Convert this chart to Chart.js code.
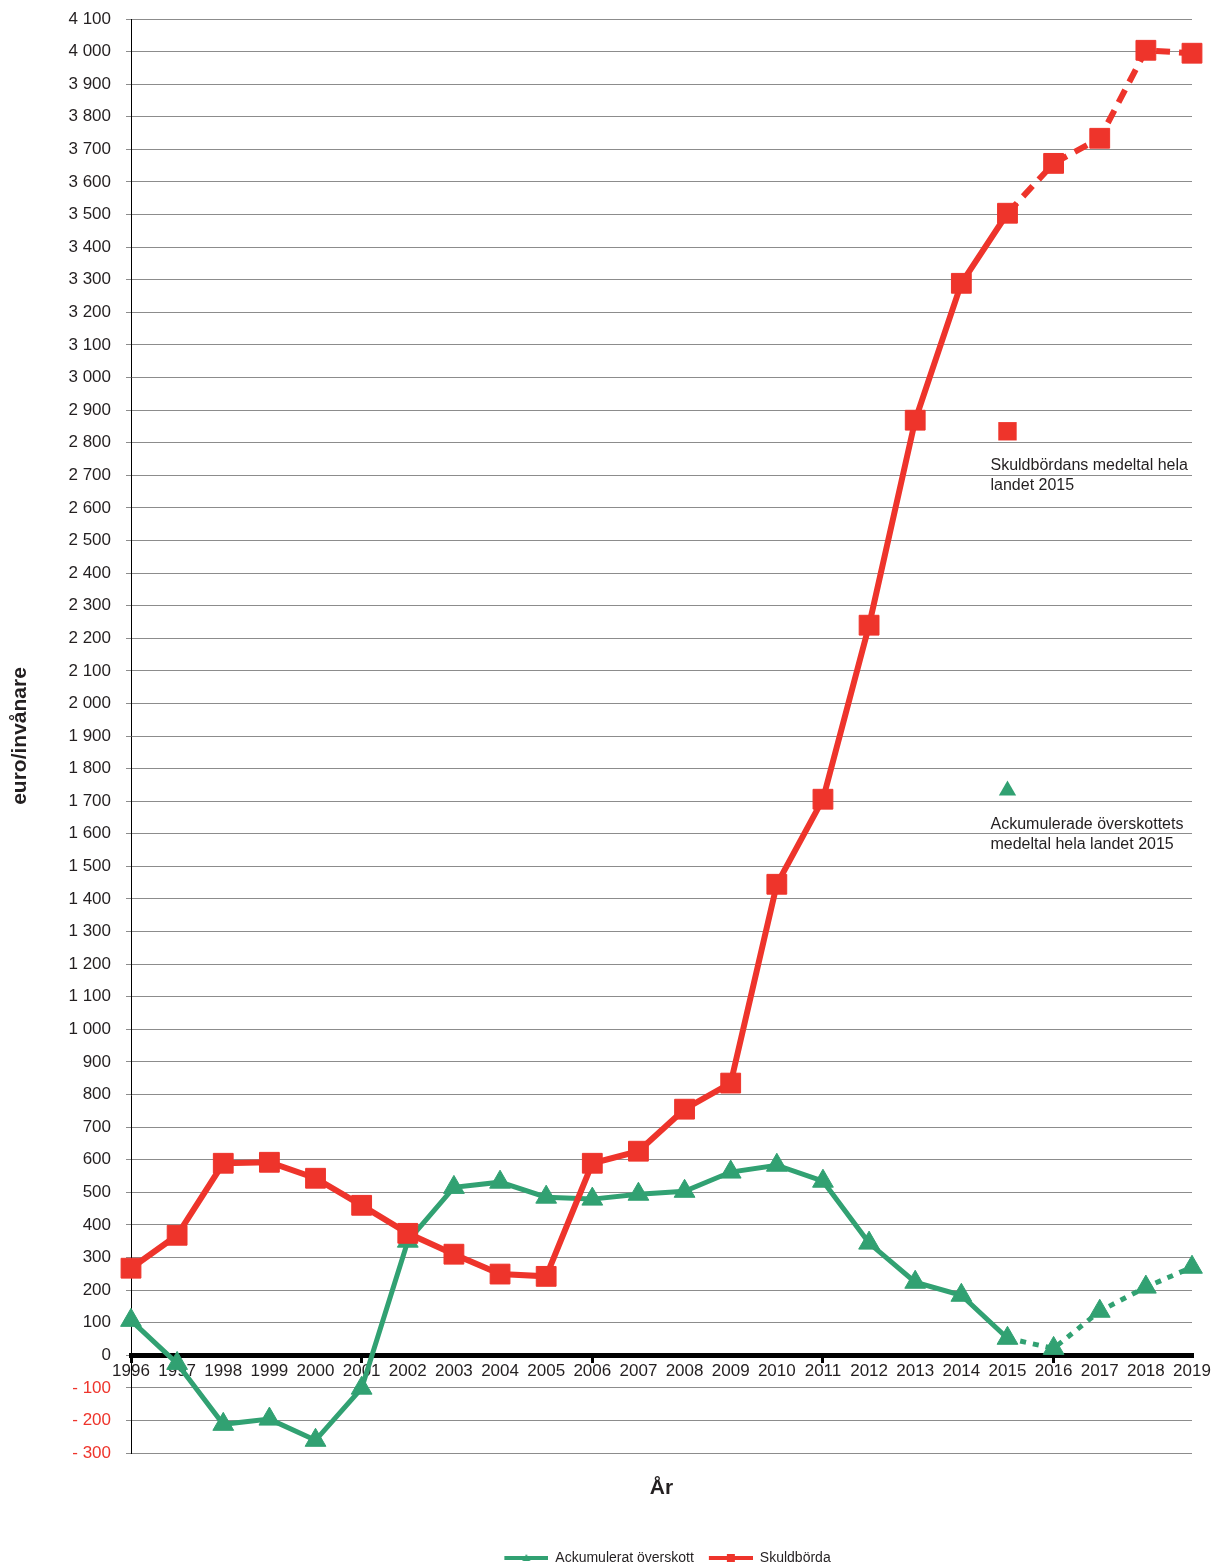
<!DOCTYPE html>
<html>
<head>
<meta charset="utf-8">
<script src="https://cdn.jsdelivr.net/npm/chart.js@4"></script>
<style>
  html, body { margin: 0; padding: 0; background: #fff; }
  #wrap { width: 1214px; height: 1567px; }
</style>
</head>
<body>
<div id="wrap"><canvas id="debtChart"></canvas></div>
<script>
// Data
const years = ['1996', '1997', '1998', '1999', '2000', '2001', '2002', '2003', '2004', '2005', '2006', '2007',
    '2008', '2009', '2010', '2011', '2012', '2013', '2014', '2015', '2016', '2017', '2018', '2019'];
const overskott = [107, -25, -212, -196, -261, -101, 350, 515, 531, 485, 479, 494,
    503, 562, 583, 534, 344, 224, 184, 52, 21, 135, 209, 270];
const skuldborda = [267, 368, 589, 592, 543, 460, 374, 310, 249, 242, 589, 626,
    755, 835, 1445, 1706, 2240, 2869, 3289, 3504, 3657, 3734, 4004, 3995];
// medeltal hela landet 2015
const noteYear = '2015';
const avgSkuld = 2835;
const avgOverskott = 1733;
const noteSkuld = ['Skuldbördans medeltal hela', 'landet 2015'];
const noteOverskott = ['Ackumulerade överskottets', 'medeltal hela landet 2015'];
// y-axel
const yMin = -300;
const yMax = 4100;
const yStep = 100;
const forecastFrom = years.indexOf('2015');

const RED = '#ee342b';
const GREEN = '#31a172';
const TEXT = '#231f20';
const FONT = '"Liberation Sans", Arial, sans-serif';

function fmt(v) {
    const s = Math.abs(v).toString().replace(/\B(?=(\d{3})+(?!\d))/g, ' ');
    return v < 0 ? '- ' + s : s;
}

function onlyAt(year, value) {
    return years.map(y => y === year ? value : null);
}

// small line+marker pictures for the legend (12px empty space on the left)
function legendIcon(color, shape) {
    const c = document.createElement('canvas');
    c.width = 56;
    c.height = 10;
    const g = c.getContext('2d');
    g.fillStyle = color;
    g.fillRect(12, 3, 44, 4);
    if (shape === 'rect') {
        g.fillRect(30, 1, 8, 8);
    } else {
        g.beginPath();
        g.moveTo(34, 1);
        g.lineTo(38, 8);
        g.lineTo(30, 8);
        g.closePath();
        g.fill();
    }
    return c;
}

const notesPlugin = {
    id: 'notes',
    afterDatasetsDraw(chart) {
        const {ctx, chartArea, scales: {x, y}} = chart;
        const px = x.getPixelForValue(years.indexOf(noteYear)) - 17;
        ctx.save();
        ctx.fillStyle = TEXT;
        ctx.font = '16px ' + FONT;
        ctx.textAlign = 'left';
        ctx.textBaseline = 'middle';
        [[avgSkuld, noteSkuld], [avgOverskott, noteOverskott]].forEach(([val, lines]) => {
            const py = y.getPixelForValue(val);
            lines.forEach((t, k) => ctx.fillText(t, px, py + 34 + k * 20));
        });
        ctx.font = 'bold 21px ' + FONT;
        ctx.textAlign = 'center';
        ctx.fillText('År', (chartArea.left + chartArea.right) / 2, chartArea.bottom + 35);
        ctx.restore();
    }
};

const ctx = document.getElementById('debtChart').getContext('2d');
new Chart(ctx, {
    type: 'line',
    data: {
        labels: years,
        datasets: [
            {
                label: 'Ackumulerat överskott',
                data: overskott,
                borderColor: GREEN,
                backgroundColor: GREEN,
                borderWidth: 5,
                pointStyle: 'triangle',
                pointRadius: 12,
                pointHoverRadius: 12,
                pointBorderWidth: 1,
                order: 2,
                clip: false,
                segment: {
                    borderDash: c => c.p0DataIndex >= forecastFrom ? [6, 7] : undefined
                }
            },
            {
                label: 'Skuldbörda',
                data: skuldborda,
                borderColor: RED,
                backgroundColor: RED,
                borderWidth: 6,
                pointStyle: 'rect',
                pointRadius: 14,
                pointHoverRadius: 14,
                pointBorderWidth: 1,
                order: 1,
                clip: false,
                segment: {
                    borderDash: c => c.p0DataIndex >= forecastFrom ? [14, 9] : undefined
                }
            },
            {
                label: 'avgSkuld',
                data: onlyAt(noteYear, avgSkuld),
                showLine: false,
                borderColor: RED,
                backgroundColor: RED,
                pointStyle: 'rect',
                pointRadius: 13,
                pointBorderWidth: 0,
                clip: false
            },
            {
                label: 'avgOverskott',
                data: onlyAt(noteYear, avgOverskott),
                showLine: false,
                borderColor: GREEN,
                backgroundColor: GREEN,
                pointStyle: 'triangle',
                pointRadius: 10,
                pointBorderWidth: 0,
                clip: false
            }
        ]
    },
    options: {
        responsive: true,
        maintainAspectRatio: false,
        animation: false,
        layout: {
            autoPadding: false,
            padding: {top: 19, right: 22, left: 0, bottom: -8}
        },
        plugins: {
            tooltip: {enabled: false},
            legend: {
                position: 'bottom',
                fullSize: false,
                labels: {
                    usePointStyle: true,
                    pointStyleWidth: 56,
                    padding: 3,
                    color: TEXT,
                    font: {family: FONT, size: 14},
                    filter: item => item.datasetIndex < 2,
                    sort: (a, b) => a.datasetIndex - b.datasetIndex,
                    generateLabels: chart => {
                        const items = Chart.defaults.plugins.legend.labels.generateLabels(chart);
                        items.forEach(it => {
                            if (it.datasetIndex === 0) it.pointStyle = legendIcon(GREEN, 'triangle');
                            if (it.datasetIndex === 1) it.pointStyle = legendIcon(RED, 'rect');
                        });
                        return items;
                    }
                }
            }
        },
        scales: {
            x: {
                position: {y: 0},
                grid: {
                    drawOnChartArea: false,
                    drawTicks: true,
                    tickLength: 5,
                    lineWidth: 3,
                    color: c => (c.index % 5 === 0 ? '#000' : 'rgba(0,0,0,0)')
                },
                border: {display: true, color: '#000', width: 5},
                ticks: {
                    autoSkip: false,
                    maxRotation: 0,
                    padding: 1,
                    color: TEXT,
                    font: {family: FONT, size: 17}
                }
            },
            // empty axis that only keeps room under the plot for the "År" title
            x2: {
                type: 'category',
                position: 'bottom',
                grid: {display: false},
                border: {display: false},
                ticks: {display: false},
                afterFit: s => { s.height = 95; }
            },
            y: {
                min: yMin,
                max: yMax,
                afterFit: s => {
                    s.width = 131;
                    s.paddingTop = 10;
                    s.paddingBottom = 10;
                },
                grid: {
                    color: '#8c8c8c',
                    lineWidth: 1,
                    tickLength: 5
                },
                border: {display: true, color: '#000', width: 1},
                title: {
                    display: true,
                    text: 'euro/invånare',
                    color: TEXT,
                    padding: {top: 8, bottom: 0},
                    font: {family: FONT, size: 21, weight: 'bold'}
                },
                ticks: {
                    stepSize: yStep,
                    autoSkip: false,
                    padding: 15,
                    color: c => (c.tick && c.tick.value < 0 ? RED : TEXT),
                    font: {family: FONT, size: 17},
                    callback: v => fmt(v)
                }
            }
        }
    },
    plugins: [notesPlugin]
});
</script>
</body>
</html>
